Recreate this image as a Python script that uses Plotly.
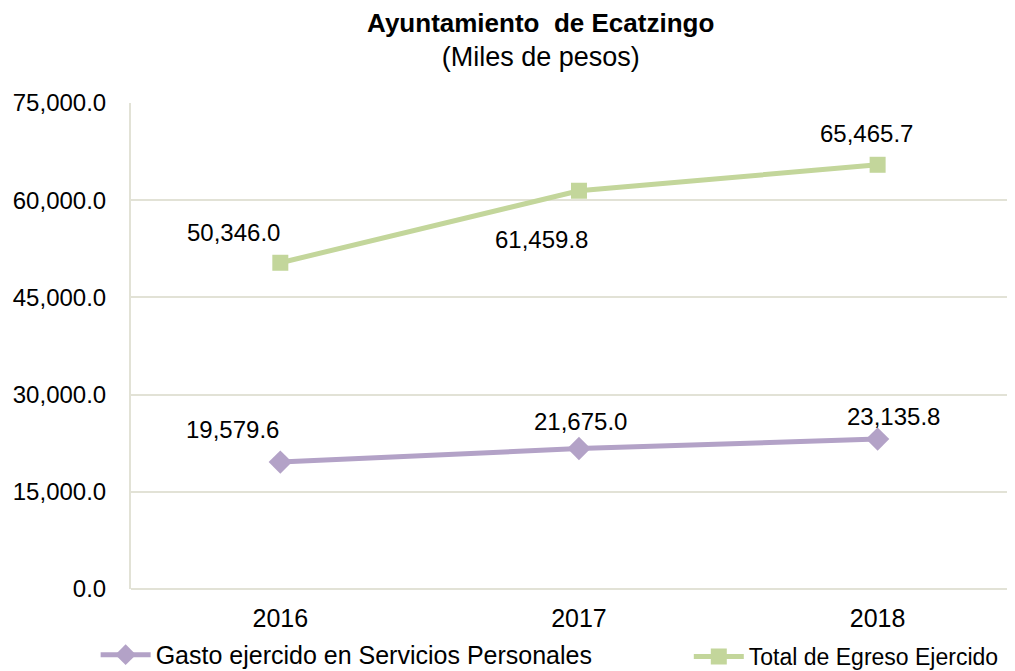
import plotly.graph_objects as go

years = ["2016", "2017", "2018"]
gasto = [19579.6, 21675.0, 23135.8]
total = [50346.0, 61459.8, 65465.7]
series_names = ["Gasto ejercido en Servicios Personales", "Total de Egreso Ejercido"]
y_ticks = [0, 15000, 30000, 45000, 60000, 75000]

purple = "#b3a2c7"
green = "#c3d69b"
grid = "#e2e2d6"
font = "Liberation Sans, Arial, sans-serif"

xpos = list(range(len(years)))

fig = go.Figure()
fig.add_trace(go.Scatter(x=xpos, y=gasto, name=series_names[0], mode="lines+markers",
                         line=dict(color=purple, width=5),
                         marker=dict(symbol="diamond", size=18, color=purple),
                         legend="legend"))
fig.add_trace(go.Scatter(x=xpos, y=total, name=series_names[1], mode="lines+markers",
                         line=dict(color=green, width=5),
                         marker=dict(symbol="square", size=16, color=green),
                         legend="legend2"))

# label offsets (pixels) per point
off_gasto = [(-48, 33), (2, 27), (16, 23)]
off_total = [(-47, 30), (-37, -49), (-11, 31)]
for vals, offs in ((gasto, off_gasto), (total, off_total)):
    for xv, yv, (dx, dy) in zip(xpos, vals, offs):
        fig.add_annotation(x=xv, y=yv, xref="x", yref="y", text=f"{yv:,.1f}",
                           showarrow=False, xshift=dx, yshift=dy,
                           font=dict(family=font, size=24, color="black"))

leg_common = dict(orientation="h", xref="paper", yref="paper",
                  xanchor="left", y=-0.183, yanchor="bottom", itemwidth=50,
                  bgcolor="rgba(0,0,0,0)")

fig.update_layout(
    width=1007, height=671,
    margin=dict(l=123, r=0, t=95, b=90),
    paper_bgcolor="white", plot_bgcolor="white",
    font=dict(family=font, size=24, color="black"),
    title=dict(text="<b>Ayuntamiento  de Ecatzingo</b><br><span style='font-size:27px'>(Miles de pesos)</span>",
               x=0.529, xanchor="center", y=0.9644, yanchor="top",
               font=dict(family=font, size=26, color="black")),
    xaxis=dict(range=[-0.5, 2.46], tickvals=xpos, ticktext=years, showgrid=False,
               zeroline=False, showline=False, ticks="", ticklabelstandoff=12,
               tickfont=dict(size=25), automargin=False),
    yaxis=dict(range=[0, 75000], tickvals=y_ticks, tickformat=",.1f",
               showgrid=True, gridcolor=grid, gridwidth=2,
               zeroline=True, zerolinecolor=grid, zerolinewidth=2,
               showline=True, linecolor=grid, linewidth=2,
               ticks="", ticklabelstandoff=18, tickfont=dict(size=24), automargin=False),
    legend=dict(x=-0.04, font=dict(family=font, size=25, color="black"), **leg_common),
    legend2=dict(x=0.631, font=dict(family=font, size=23, color="black"), **leg_common),
    showlegend=True,
)

fig.write_html("out.html")
